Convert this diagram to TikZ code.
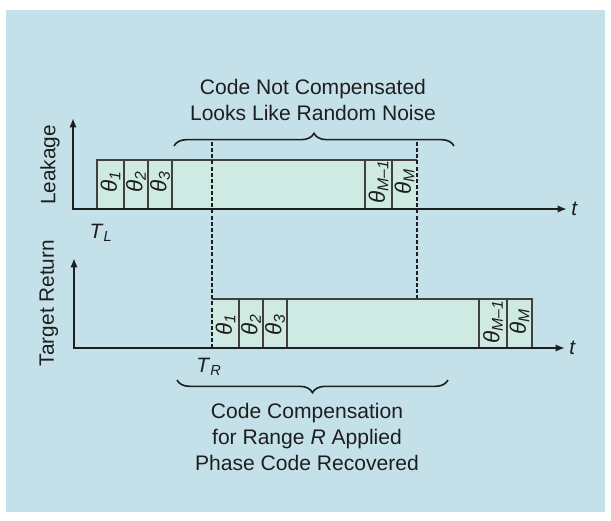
\documentclass[tikz,border=0pt]{standalone}
\usepackage{fontspec}
\setmainfont{Liberation Sans}
\usepackage{xcolor}
\definecolor{bgblue}{RGB}{196,225,233}
\definecolor{cellgreen}{RGB}{206,234,226}
\definecolor{celledge}{RGB}{64,64,64}
\definecolor{inkblack}{RGB}{30,30,30}
\usepackage{tikz}
\usetikzlibrary{arrows.meta,positioning,decorations.pathreplacing,calc}

% theta with subscript, as printed in the code cells
\newcommand{\thk}[1]{\textit{θ}\textsubscript{\textit{#1}}}

\tikzset{
  axisline/.style={inkblack, line width=1.7pt, {Latex[length=7pt,width=5.5pt]}-{Latex[length=7pt,width=5.5pt]}},
  codebox/.style={fill=cellgreen},
  cellline/.style={celledge, line width=0.8pt},
  gateline/.style={inkblack, line width=1.2pt, dash pattern=on 3pt off 1.6pt},
  curly/.style={inkblack, line width=1.2pt, decorate, decoration={brace, amplitude=9.5pt}},
  celltext/.style={rotate=90, inner sep=0pt, text=inkblack, font=\fontsize{16.8}{18}\selectfont},
  note/.style={align=center, text=inkblack, font=\fontsize{15.8}{19.6}\selectfont}
}

\begin{document}
\begin{tikzpicture}[x=0.75pt, y=-0.75pt, font=\fontsize{15.6}{18}\selectfont]
    % page and panel
    \useasboundingbox (0,0) rectangle (611,521);
    \fill[bgblue] (6,10) rectangle (605,512);

    % Leakage code: cells 1..3, then the M-1 and M cells
    \fill[codebox] (97,160) rectangle (417,209);
    \draw[cellline] (417,160) -- (97,160) -- (97,209);
    \foreach \xc in {124,148,172,365,392}
      \draw[cellline] (\xc,160) -- (\xc,209);
    \node[celltext] (leak1) at (110.5,182) {\thk{1}};
    \node[celltext] (leak2) at (136,182) {\thk{2}};
    \node[celltext] (leak3) at (160,182) {\thk{3}};
    \node[celltext] (leakm1) at (378.5,182) {\thk{M–1}};
    \node[celltext] (leakm) at (404.5,182) {\thk{M}};

    % Target return code, shifted by T_R
    \fill[codebox] (212,299) rectangle (532,348);
    \draw[cellline] (212,299) -- (532,299) -- (532,348);
    \foreach \xc in {239,263,287,479,507}
      \draw[cellline] (\xc,299) -- (\xc,348);
    \node[celltext] (ret1) at (225.5,325) {\thk{1}};
    \node[celltext] (ret2) at (251,325) {\thk{2}};
    \node[celltext] (ret3) at (275,325) {\thk{3}};
    \node[celltext] (retm1) at (493,322) {\thk{M–1}};
    \node[celltext] (retm) at (519.5,322) {\thk{M}};

    % dashed markers
    \coordinate (gatea) at (212,142);
    \coordinate (gateb) at (212,348);
    \coordinate (gatec) at (417,142);
    \coordinate (gated) at (417,298);
    \draw[gateline] (gatea) -- (gateb);
    \draw[gateline] (gatec) -- (gated);

    % axes
    \coordinate (leaktop) at (73,118);
    \coordinate (leako) at (73,209);
    \coordinate (leakend) at (567,209);
    \coordinate (rettop) at (74,258);
    \coordinate (reto) at (74,348);
    \coordinate (retend) at (565,348);
    \draw[axisline] (leaktop) -- (leako) -- (leakend);
    \draw[axisline] (rettop) -- (reto) -- (retend);
    \node[anchor=west, inner sep=3pt, text=inkblack] (leakt) at (leakend) {\textit{t}};
    \node[anchor=west, inner sep=3pt, text=inkblack] (rett) at (retend) {\textit{t}};
    \node[rotate=90, text=inkblack] (leaklab) at (50,165) {Leakage};
    \node[rotate=90, text=inkblack] (retlab) at (49,303) {Target Return};
    \node[text=inkblack] (tleak) at (101,233) {\textit{T}\textsubscript{\textit{L}}};
    \node[text=inkblack] (tret) at (209,367) {\textit{T}\textsubscript{\textit{R}}};

    % braces and notes
    \draw[curly] (174,146) -- (454,146);
    \draw[curly] (448,380) -- (177,380);
    \node[note] (topnote) at (313,100) {Code Not Compensated\\Looks Like Random Noise};
    \node[note] (botnote) at (307,437) {Code Compensation\\for Range \textit{R} Applied\\Phase Code Recovered};
\end{tikzpicture}
\end{document}
